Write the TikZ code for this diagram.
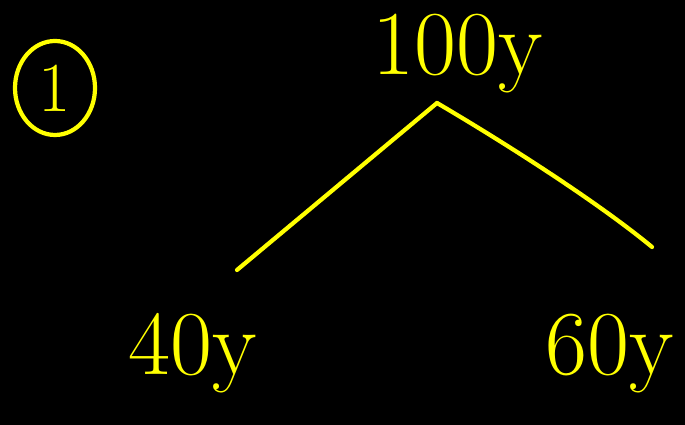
\documentclass[tikz,border=0pt]{standalone}
\usepackage{xcolor}
\usepackage{tikz}
\usetikzlibrary{positioning,shapes.geometric}

\definecolor{penyellow}{RGB}{255,255,0}

\begin{document}
\begin{tikzpicture}[
    ink/.style={draw=penyellow, line width=1.2pt, line cap=round},
    label/.style={text=penyellow, font=\fontsize{26}{30}\selectfont, anchor=base, inner sep=0pt}
]
    \fill[black] (0,0) rectangle (6.85,4.25);

    \node (num) [ellipse, draw=penyellow, line width=1.2pt, minimum width=0.80cm, minimum height=0.94cm, text=penyellow, font=\fontsize{20}{24}\selectfont, inner sep=0pt] at (0.55,3.37) {1};
    \node (total) [label] at (4.58,3.50) {100y};
    \node (left) [label] at (1.93,0.50) {40y};
    \node (right) [label] at (6.10,0.50) {60y};

    \coordinate (top) at (4.37,3.22);
    \coordinate (leftend) at (2.37,1.55);
    \coordinate (rightend) at (6.52,1.78);

    \draw [ink] (top) -- (leftend);
    \draw [ink] (top) .. controls (5.0,2.85) and (5.95,2.25) .. (rightend);
\end{tikzpicture}
\end{document}
